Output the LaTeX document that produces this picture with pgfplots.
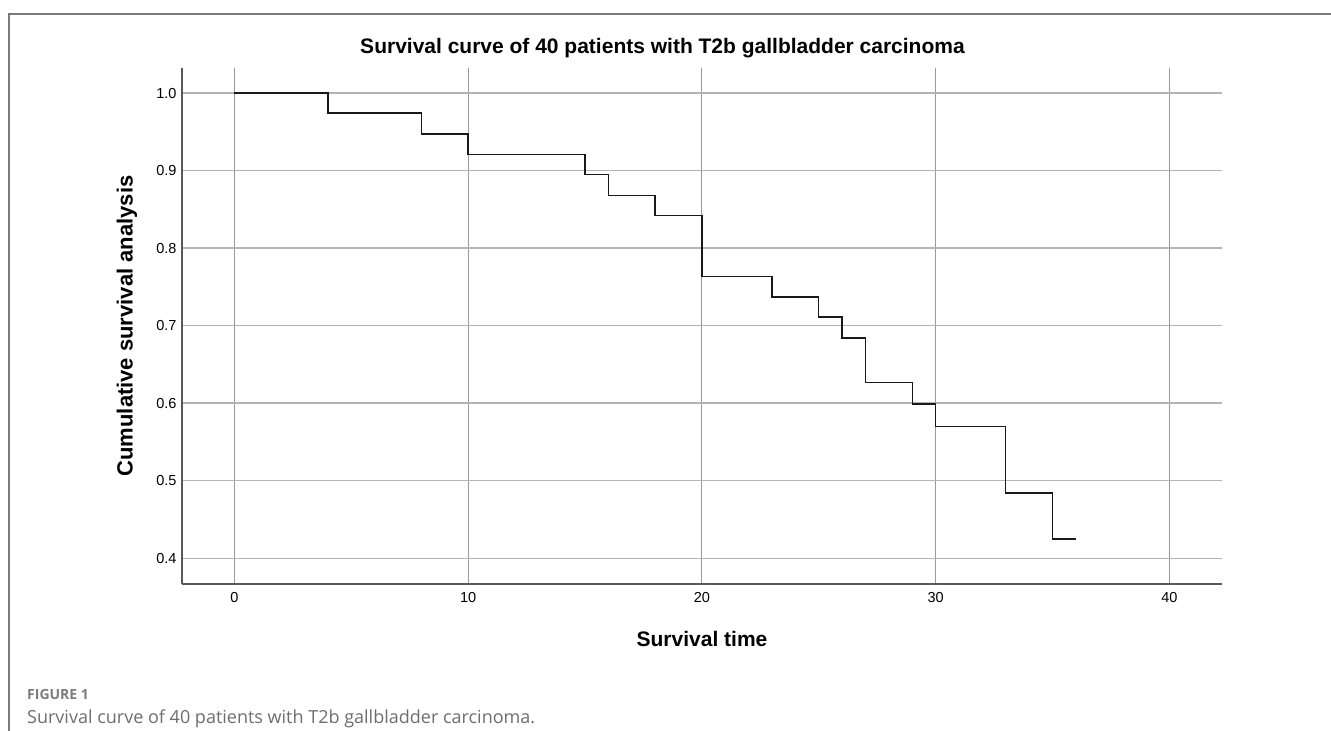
\documentclass[border=0pt]{standalone}
\usepackage{fontspec}
\setmainfont{Liberation Sans}
\newfontfamily\capfont{Open Sans}
\usepackage{pgfplots}
\pgfplotsset{compat=1.18}
\definecolor{axisgray}{HTML}{595959}
\definecolor{gridgray}{HTML}{B4B4B4}
\definecolor{capgray}{HTML}{6E6E6E}
\definecolor{framegray}{HTML}{7A7A7A}
\begin{document}
\begin{tikzpicture}[x=1pt,y=1pt]
\path[use as bounding box, fill=white] (0,0) rectangle (1331,731);
% figure frame (top and left)
\draw[framegray, line width=1.2pt] (1331,717) -- (9,717) -- (9,0);
\begin{axis}[
  at={(182pt,147pt)}, anchor=south west,
  scale only axis, width=1040pt, height=516pt,
  xmin=-2.24, xmax=42.25, ymin=0.3668, ymax=1.0323,
  axis lines*=left,
  axis line style={axisgray, line width=1.5pt},
  xtick={0,10,20,30,40},
  ytick={0.4,0.5,0.6,0.7,0.8,0.9,1.0},
  major tick length=0pt,
  grid=major,
  x grid style={gridgray!85!black, line width=1pt},
  y grid style={gridgray, line width=1.4pt},
  ticklabel style={font=\fontsize{14.5}{16}\selectfont},
  /pgf/number format/assume math mode=true,
  yticklabel style={/pgf/number format/fixed, /pgf/number format/fixed zerofill, /pgf/number format/precision=1, xshift=-2pt},
  xticklabel style={yshift=-5pt},
  clip=false,
]
\addplot[const plot, black!90, line width=1.4pt] coordinates {
(0,1.000) (4,0.974) (8,0.947) (10,0.921) (15,0.895) (16,0.868) (18,0.842)
(20,0.763) (23,0.737) (25,0.711) (26,0.684) (27,0.627) (29,0.599)
(30,0.570) (33,0.484) (35,0.425) (36,0.425)
};
\end{axis}
% title and axis labels
\node[font=\fontsize{21}{25}\selectfont\bfseries] at (662.5,682.5) {Survival curve of 40 patients with T2b gallbladder carcinoma};
\node[font=\fontsize{21}{25}\selectfont\bfseries] at (702,92) {Survival time};
\node[font=\fontsize{22}{26}\selectfont\bfseries, rotate=90] at (127,405) {Cumulative survival analysis};
% caption
\node[anchor=west, inner sep=0pt, font=\capfont\fontsize{14}{16}\selectfont\bfseries, text=capgray!90] at (27,36) {FIGURE 1};
\node[anchor=west, inner sep=0pt, font=\capfont\fontsize{18}{21}\selectfont, text=capgray] at (27,12) {Survival curve of 40 patients with T2b gallbladder carcinoma.};
\end{tikzpicture}
\end{document}
